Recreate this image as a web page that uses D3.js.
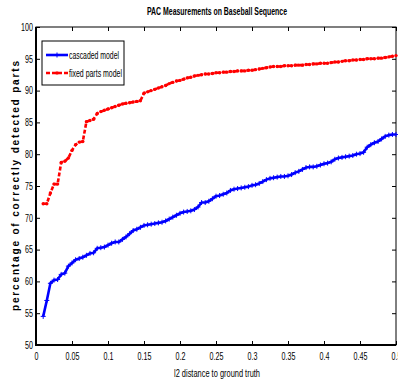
<!DOCTYPE html>
<html>
<head>
<meta charset="utf-8">
<script src="https://cdn.jsdelivr.net/npm/d3@7"></script>
<style>
  html, body { margin: 0; padding: 0; background: #fff; overflow: hidden; }
  svg { display: block; font-family: "Liberation Sans", Arial, sans-serif; }
</style>
</head>
<body>
<svg id="chart" width="398" height="381"></svg>
<script>
// l2 distance thresholds (x) shared by both curves
const distances = d3.range(99).map(i => +(0.01 + i * 0.005).toFixed(3));

// percentage of correctly detected parts, cascaded model
const cascadedModel = [
  54.5, 57.0, 59.7, 60.2, 60.3, 61.1, 61.3, 62.4, 62.9, 63.4,
  63.6, 63.8, 64.1, 64.4, 64.5, 65.2, 65.3, 65.4, 65.7, 66.0,
  66.2, 66.2, 66.6, 67.0, 67.5, 68.0, 68.2, 68.5, 68.8, 68.9,
  69.0, 69.1, 69.2, 69.3, 69.5, 69.8, 70.1, 70.4, 70.7, 70.9,
  71.0, 71.1, 71.3, 71.7, 72.4, 72.4, 72.6, 73.0, 73.4, 73.5,
  73.7, 73.9, 74.3, 74.5, 74.6, 74.7, 74.8, 74.9, 75.1, 75.2,
  75.4, 75.7, 76.0, 76.2, 76.3, 76.4, 76.5, 76.5, 76.6, 76.8,
  77.1, 77.3, 77.6, 77.9, 78.0, 78.0, 78.1, 78.3, 78.5, 78.6,
  78.8, 79.2, 79.4, 79.5, 79.6, 79.7, 79.8, 80.0, 80.1, 80.3,
  81.1, 81.5, 81.8, 82.0, 82.4, 82.8, 83.0, 83.1, 83.1
];

// percentage of correctly detected parts, fixed parts model
const fixedPartsModel = [
  72.2, 72.2, 73.9, 75.3, 75.3, 78.7, 78.9, 79.4, 80.6, 81.5,
  81.9, 82.0, 85.1, 85.3, 85.5, 86.4, 86.7, 86.9, 87.1, 87.3,
  87.5, 87.7, 87.9, 88.0, 88.1, 88.2, 88.3, 88.4, 89.6, 89.8,
  90.0, 90.2, 90.4, 90.6, 90.8, 91.1, 91.3, 91.5, 91.6, 91.8,
  92.0, 92.1, 92.3, 92.4, 92.5, 92.6, 92.6, 92.7, 92.8, 92.8,
  92.9, 92.9, 93.0, 93.0, 93.1, 93.1, 93.1, 93.2, 93.2, 93.3,
  93.4, 93.5, 93.6, 93.7, 93.8, 93.8, 93.8, 93.9, 93.9, 93.9,
  94.0, 94.0, 94.0, 94.1, 94.1, 94.2, 94.2, 94.3, 94.3, 94.3,
  94.4, 94.5, 94.5, 94.6, 94.7, 94.7, 94.8, 94.8, 94.9, 94.9,
  95.0, 95.0, 95.0, 95.1, 95.1, 95.2, 95.3, 95.4, 95.5
];

const seriesNames = ["cascaded model", "fixed parts model"];
const xTicks = [0, 0.05, 0.1, 0.15, 0.2, 0.25, 0.3, 0.35, 0.4, 0.45, 0.5];
const yTicks = [50, 55, 60, 65, 70, 75, 80, 85, 90, 95, 100];
const titleText = "PAC Measurements on Baseball Sequence";
const xLabelText = "l2 distance to ground truth";
const yLabelText = "percentage of correctly detected parts";

const svg = d3.select("#chart");
const L = 36, R = 396, T = 27, B = 345;

const x = d3.scaleLinear().domain([0, 0.5]).range([L, R]);
const y = d3.scaleLinear().domain([50, 100]).range([B, T]);

const fmt = d => d === 0 ? "0" : String(+d.toFixed(2));

// squeeze glyphs horizontally to get a condensed face
function condense(sel, factor) {
  sel.each(function () {
    const w = this.getComputedTextLength();
    d3.select(this).attr("textLength", w * factor).attr("lengthAdjust", "spacingAndGlyphs");
  });
}

// axes with inward ticks, MATLAB box style
const tickLen = 4;
const xAxisG = svg.append("g")
  .attr("transform", `translate(0,${B})`)
  .call(d3.axisBottom(x).tickValues(xTicks).tickFormat(fmt).tickSizeInner(-tickLen).tickSizeOuter(0).tickPadding(8))
  .call(g => g.select(".domain").remove());
svg.append("g")
  .attr("transform", `translate(0,${T})`)
  .call(d3.axisTop(x).tickValues(xTicks).tickFormat("").tickSizeInner(-tickLen).tickSizeOuter(0))
  .call(g => g.select(".domain").remove());
const yAxisG = svg.append("g")
  .attr("transform", `translate(${L},0)`)
  .call(d3.axisLeft(y).tickValues(yTicks).tickFormat(d3.format("d")).tickSizeInner(-tickLen).tickSizeOuter(0).tickPadding(3))
  .call(g => g.select(".domain").remove());
svg.append("g")
  .attr("transform", `translate(${R},0)`)
  .call(d3.axisRight(y).tickValues(yTicks).tickFormat("").tickSizeInner(-tickLen).tickSizeOuter(0))
  .call(g => g.select(".domain").remove());

svg.selectAll(".tick line").attr("stroke", "#000").attr("stroke-width", 1);
svg.selectAll(".tick text").attr("font-size", 10.5).attr("fill", "#000")
  .attr("font-family", "'Liberation Sans', Arial, sans-serif");
condense(xAxisG.selectAll(".tick text"), 0.68);
condense(yAxisG.selectAll(".tick text"), 0.68);

// frame
svg.append("rect")
  .attr("x", L).attr("y", T).attr("width", R - L).attr("height", B - T)
  .attr("fill", "none").attr("stroke", "#000").attr("stroke-width", 1);
svg.append("line").attr("x1", L).attr("x2", L).attr("y1", T).attr("y2", B + 1)
  .attr("stroke", "#000").attr("stroke-width", 2);
svg.append("line").attr("x1", L - 1).attr("x2", R).attr("y1", B).attr("y2", B)
  .attr("stroke", "#000").attr("stroke-width", 2);

const line = d3.line().x((d, i) => x(distances[i])).y(d => y(d));

// cascaded model: solid blue with plus markers
svg.append("path").datum(cascadedModel)
  .attr("d", line).attr("fill", "none").attr("stroke", "#0000ff").attr("stroke-width", 2.6)
  .attr("stroke-linejoin", "round");
svg.append("g").selectAll("path").data(cascadedModel).join("path")
  .attr("d", (d, i) => {
    const cx = x(distances[i]), cy = y(d);
    return `M${cx - 2.5},${cy}H${cx + 2.5}M${cx},${cy - 2.5}V${cy + 2.5}`;
  })
  .attr("stroke", "#0000ff").attr("stroke-width", 1);

// fixed parts model: dashed red with dot markers
svg.append("path").datum(fixedPartsModel)
  .attr("d", line).attr("fill", "none").attr("stroke", "#ff0000").attr("stroke-width", 2.6)
  .attr("stroke-dasharray", "4,2");
svg.append("g").selectAll("circle").data(fixedPartsModel).join("circle")
  .attr("cx", (d, i) => x(distances[i])).attr("cy", d => y(d)).attr("r", 1.7)
  .attr("fill", "#ff0000");

// title and axis labels
svg.append("text")
  .attr("x", 217).attr("y", 15).attr("text-anchor", "middle")
  .attr("font-size", 11).attr("font-weight", "bold")
  .attr("textLength", 140).attr("lengthAdjust", "spacingAndGlyphs").text(titleText);
svg.append("text")
  .attr("x", 217).attr("y", 377).attr("text-anchor", "middle")
  .attr("font-size", 10.5)
  .attr("textLength", 86).attr("lengthAdjust", "spacingAndGlyphs").text(xLabelText);
svg.append("text")
  .attr("transform", `translate(19,${(T + B) / 2}) rotate(-90)`)
  .attr("text-anchor", "middle")
  .attr("font-size", 10).attr("font-weight", "bold")
  .attr("textLength", 250).attr("lengthAdjust", "spacing")
  .text(yLabelText);

// legend
const lg = svg.append("g");
lg.append("rect").attr("x", 42).attr("y", 41).attr("width", 82).attr("height", 44)
  .attr("fill", "#fff").attr("stroke", "#000").attr("stroke-width", 1);
const legendRows = [
  { name: seriesNames[0], color: "#0000ff", dash: null, yy: 55, len: 50 },
  { name: seriesNames[1], color: "#ff0000", dash: "4,2", yy: 73, len: 53 }
];
legendRows.forEach((r, k) => {
  lg.append("line").attr("x1", 46).attr("x2", 68).attr("y1", r.yy).attr("y2", r.yy)
    .attr("stroke", r.color).attr("stroke-width", 2.6)
    .attr("stroke-dasharray", r.dash);
  if (k === 0) {
    lg.append("path").attr("d", `M54.5,${r.yy}H59.5M57,${r.yy - 2.5}V${r.yy + 2.5}`)
      .attr("stroke", r.color).attr("stroke-width", 1);
  } else {
    lg.append("circle").attr("cx", 57).attr("cy", r.yy).attr("r", 1.7).attr("fill", r.color);
  }
  lg.append("text")
    .attr("x", 69).attr("y", r.yy + 3.5).attr("font-size", 10)
    .attr("textLength", r.len).attr("lengthAdjust", "spacingAndGlyphs").text(r.name);
});
</script>
</body>
</html>
